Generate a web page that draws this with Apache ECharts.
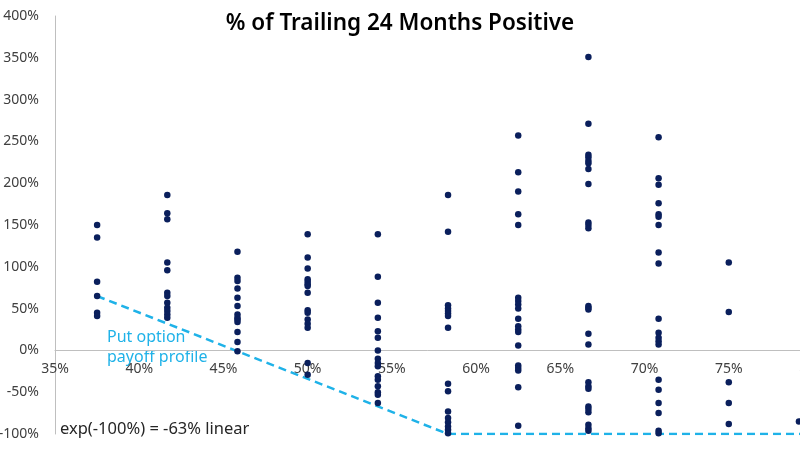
<!DOCTYPE html>
<html>
<head>
    <meta charset="utf-8">
    <title>% of Trailing 24 Months Positive</title>
    <script src="https://cdn.jsdelivr.net/npm/echarts@6/dist/echarts.min.js"></script>
    <style>
        html, body { margin: 0; padding: 0; background: #fff; }
        #chart { width: 800px; height: 450px; }
    </style>
</head>
<body>
<div id="chart"></div>
<script type="text/javascript">
    // share of positive months in trailing 24 (x) — one column per n/24
    var columns = [9 / 24, 10 / 24, 11 / 24, 12 / 24, 13 / 24, 14 / 24, 15 / 24, 16 / 24, 17 / 24, 18 / 24, 19 / 24];

    // subsequent returns for each column
    var col375 = [1.50, 1.35, 0.82, 0.65, 0.45, 0.41];
    var col417 = [1.86, 1.64, 1.57, 1.05, 0.96, 0.69, 0.65, 0.57, 0.51, 0.47, 0.43, 0.39];
    var col458 = [1.18, 0.87, 0.83, 0.74, 0.63, 0.53, 0.43, 0.39, 0.37, 0.34, 0.22, 0.10, -0.01];
    var col500 = [1.39, 1.11, 0.98, 0.85, 0.82, 0.79, 0.77, 0.69, 0.48, 0.45, 0.37, 0.32, 0.27, -0.15, -0.29];
    var col542 = [1.39, 0.88, 0.57, 0.39, 0.23, 0.15, 0.00, -0.10, -0.15, -0.19, -0.31, -0.35, -0.43, -0.50, -0.53, -0.63];
    var col583 = [1.86, 1.42, 0.54, 0.50, 0.47, 0.44, 0.41, 0.27, -0.40, -0.49, -0.73, -0.81, -0.86, -0.91, -0.95, -0.99];
    var col625 = [2.57, 2.13, 1.90, 1.63, 1.50, 0.63, 0.59, 0.55, 0.50, 0.38, 0.29, 0.25, 0.22, 0.06, -0.18, -0.21, -0.24, -0.44, -0.90];
    var col667 = [3.51, 2.71, 2.34, 2.31, 2.27, 2.24, 2.17, 1.99, 1.53, 1.50, 1.46, 0.53, 0.51, 0.49, 0.20, 0.07, -0.38, -0.43, -0.46, -0.67, -0.70, -0.74, -0.89, -0.93, -0.96];
    var col708 = [2.55, 2.06, 1.98, 1.76, 1.63, 1.60, 1.50, 1.17, 1.04, 0.38, 0.21, 0.15, 0.11, 0.07, -0.35, -0.47, -0.63, -0.75, -0.96, -0.99];
    var col750 = [1.05, 0.46, -0.38, -0.63, -0.88];
    var col792 = [-0.85];
    var columnValues = [col375, col417, col458, col500, col542, col583, col625, col667, col708, col750, col792];

    // put option payoff profile
    var putX = [0.375, 14 / 24, 0.80];
    var putY = [0.65, -1.00, -1.00];

    var xTicks = { min: 0.35, max: 0.80, step: 0.05 };
    var yTicks = { min: -1, max: 4, step: 0.5 };

    var scatterData = [];
    columns.forEach(function (x, i) {
        columnValues[i].forEach(function (y) {
            scatterData.push([x, y]);
        });
    });
    var putData = putX.map(function (x, i) { return [x, putY[i]]; });

    var pct = function (v) { return Math.round(v * 100) + '%'; };
    var font = '"Noto Sans", "Open Sans", sans-serif';

    var gridTop = 16, gridBottom = 16, chartH = 450;
    // lift the x axis (line and labels) up to y = 0
    var plotH = chartH - gridTop - gridBottom;
    var zeroOffset = -plotH * (0 - yTicks.min) / (yTicks.max - yTicks.min);

    var myChart = echarts.init(document.getElementById('chart'));
    myChart.setOption({
        animation: false,
        textStyle: { fontFamily: font },
        title: {
            text: '% of Trailing 24 Months Positive',
            left: 'center',
            top: 7,
            textStyle: { fontSize: 22.5, fontWeight: 600, color: '#000', fontFamily: font }
        },
        // plot runs past the right edge, like the cropped original
        grid: { left: 55, right: -13, top: gridTop, bottom: gridBottom, containLabel: false, outerBoundsMode: 'none' },
        xAxis: {
            type: 'value',
            min: xTicks.min,
            max: xTicks.max,
            interval: xTicks.step,
            position: 'bottom',
            offset: zeroOffset,
            axisLine: { onZero: false, lineStyle: { color: '#bfbfbf', width: 1 } },
            axisTick: { show: false },
            splitLine: { show: false },
            axisLabel: { formatter: pct, color: '#404040', fontSize: 14, margin: 12 }
        },
        yAxis: {
            type: 'value',
            min: yTicks.min,
            max: yTicks.max,
            interval: yTicks.step,
            axisLine: { show: true, onZero: false, lineStyle: { color: '#bfbfbf', width: 1 } },
            axisTick: { show: false },
            splitLine: { show: false },
            axisLabel: { formatter: pct, color: '#404040', fontSize: 14, margin: 16 }
        },
        series: [
            {
                name: 'Put option payoff profile',
                type: 'line',
                data: putData,
                symbol: 'none',
                z: 1,
                lineStyle: { color: '#1fb2e8', width: 2.5, type: [8, 5] }
            },
            {
                name: 'Returns',
                type: 'scatter',
                data: scatterData,
                symbolSize: 6.5,
                z: 2,
                itemStyle: { color: '#0a1f5c', opacity: 1 }
            }
        ],
        graphic: [
            {
                type: 'text',
                left: 107,
                top: 327,
                style: {
                    text: 'Put option\npayoff profile',
                    fill: '#1fb2e8',
                    font: '16px ' + font,
                    lineHeight: 20
                }
            },
            {
                type: 'text',
                left: 60,
                top: 421,
                style: {
                    text: 'exp(-100%) = -63% linear',
                    fill: '#262626',
                    font: '16.5px ' + font
                }
            }
        ]
    });
</script>
</body>
</html>
